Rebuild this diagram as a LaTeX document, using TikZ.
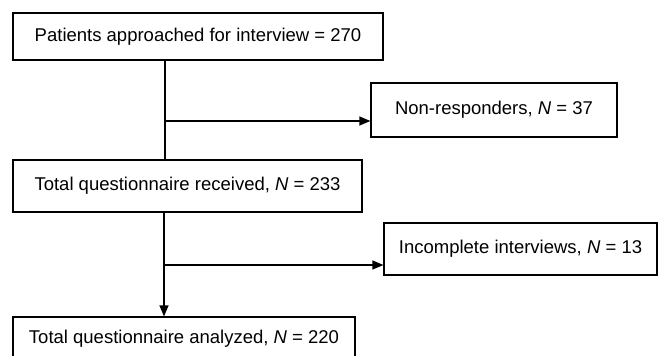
\documentclass[tikz,border=0pt]{standalone}
\usepackage{fontspec}
\setmainfont{Liberation Sans}
\usepackage{tikz}
\usetikzlibrary{arrows.meta}
\tikzset{ flow_box/.style = {rectangle, draw, line width=1.2pt, inner sep=0pt, align=center, font=\fontsize{18.5}{22}\selectfont} }
\tikzset{ flow_line/.style = {line width=1.2pt} }
\tikzset{ flow_arrow/.style = {line width=1.2pt, -{Triangle[length=11pt,width=9pt]}} }

\begin{document}
\begin{tikzpicture}[x=1pt,y=-1pt]
    \useasboundingbox (0,0) rectangle (659,356);
    \clip (0,0) rectangle (659,356);
    \node[flow_box, minimum width=370pt, minimum height=47pt] (approached) at (198, 36.5) {Patients approached for interview = 270};
    \node[flow_box, minimum width=246pt, minimum height=54pt] (nonresp) at (494, 110) {Non-responders, \textit{N} = 37};
    \node[flow_box, minimum width=349pt, minimum height=52pt] (received) at (187.5, 186) {Total questionnaire received, \textit{N} = 233};
    \node[flow_box, minimum width=273pt, minimum height=52pt] (incomplete) at (520.5, 249) {Incomplete interviews, \textit{N} = 13};
    \node[flow_box, minimum width=342pt, minimum height=44pt] (analyzed) at (184, 339) {Total questionnaire analyzed, \textit{N} = 220};
    \coordinate (split1) at (165, 121);
    \coordinate (split2) at (164, 265);
    \draw[flow_line] (split1 |- approached.south) to (split1 |- received.north);
    \draw[flow_arrow] (split1) to (split1 -| nonresp.west);
    \draw[flow_arrow] (split2 |- received.south) to (split2 |- analyzed.north);
    \draw[flow_arrow] (split2) to (split2 -| incomplete.west);
\end{tikzpicture}
\end{document}
